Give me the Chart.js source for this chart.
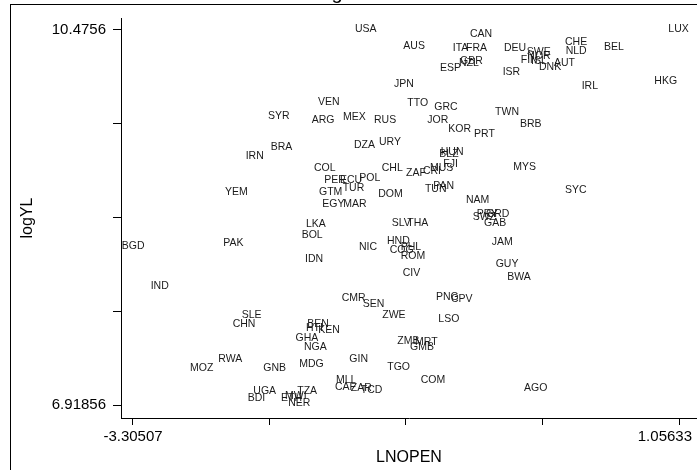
<!DOCTYPE html>
<html>
<head>
<meta charset="utf-8">
<script src="https://cdn.jsdelivr.net/npm/chart.js@4/dist/chart.umd.min.js"></script>
<style>
  body { margin: 0; background: #fff; }
  canvas { display: block; }
</style>
</head>
<body>
<canvas id="c" width="697" height="470"></canvas>
<script>
// country codes, openness (LNOPEN) and log output per worker (logYL)
const codes = [
  "USA","VEN","SYR","ARG","MEX","RUS","JPN","BRA","DZA","URY",
  "CAN","AUS","ITA","FRA","DEU","SWE","NOR","CHE","NLD","BEL",
  "LUX","ESP","NZL","GBR","FIN","ISL","DNK","AUT","ISR","IRL",
  "HKG","TTO","GRC","TWN","JOR","KOR","PRT","BRB","IRN","COL",
  "CHL","PER","ECU","POL","TUR","GTM","YEM","DOM","EGY","MAR",
  "LKA","BOL","BGD","PAK","NIC","SLV","HND","COG","IDN","HUN",
  "BLZ","FJI","ZAF","CRI","MUS","TUN","PAN","NAM","MYS","SYC",
  "SWZ","PRY","GRD","GAB","THA","PHL","ROM","JAM","GUY","CIV",
  "BWA","IND","CMR","SEN","ZWE","SLE","CHN","BEN","HTI","KEN",
  "GHA","NGA","ZMB","GMB","MRT","RWA","MOZ","GNB","MDG","GIN",
  "TGO","MLI","CAF","ZAR","TCD","UGA","BDI","TZA","ETH","MWI",
  "NER","PNG","CPV","LSO","COM","AGO"
];
const lnopen = [
  -1.532,-1.827,-2.227,-1.878,-1.628,-1.380,-1.220,-2.205,-1.540,-1.340,
  -0.613,-1.146,-0.751,-0.645,-0.342,-0.160,-0.155,0.146,0.151,0.457,
  0.971,-0.853,-0.701,-0.693,-0.208,-0.126,-0.062,0.058,-0.352,0.279,
  0.859,-1.114,-0.898,-0.413,-0.954,-0.786,-0.581,-0.214,-2.405,-1.859,
  -1.318,-1.777,-1.652,-1.497,-1.630,-1.819,-2.570,-1.346,-1.793,-1.625,
  -1.923,-1.958,-3.395,-2.584,-1.500,-1.239,-1.276,-1.255,-1.931,-0.847,
  -0.858,-0.826,-1.124,-0.989,-0.933,-0.973,-0.906,-0.645,-0.267,0.146,
  -0.592,-0.560,-0.485,-0.501,-1.114,-1.167,-1.167,-0.440,-0.408,-1.151,
  -0.315,-3.164,-1.638,-1.470,-1.314,-2.437,-2.509,-1.913,-1.923,-1.825,
  -2.007,-1.939,-1.194,-1.092,-1.052,-2.624,-2.850,-2.264,-1.977,-1.577,
  -1.274,-1.684,-1.692,-1.566,-1.486,-2.344,-2.389,-1.993,-2.123,-2.091,
  -2.065,-0.885,-0.765,-0.866,-1.007,-0.182
];
const logyl = [
  10.485,9.790,9.660,9.622,9.653,9.622,9.959,9.361,9.385,9.413,
  10.438,10.324,10.308,10.302,10.302,10.270,10.232,10.359,10.276,10.312,
  10.482,10.112,10.160,10.182,10.191,10.182,10.125,10.160,10.080,9.944,
  9.995,9.786,9.742,9.695,9.622,9.537,9.489,9.581,9.280,9.164,
  9.164,9.053,9.053,9.069,8.980,8.942,8.942,8.917,8.825,8.825,
  8.635,8.534,8.430,8.452,8.420,8.642,8.471,8.389,8.303,9.321,
  9.299,9.202,9.122,9.133,9.162,8.965,8.996,8.863,9.173,8.958,
  8.699,8.730,8.726,8.648,8.642,8.420,8.332,8.462,8.256,8.168,
  8.136,8.047,7.931,7.877,7.772,7.772,7.687,7.684,7.652,7.630,
  7.551,7.472,7.526,7.472,7.519,7.352,7.267,7.267,7.305,7.352,
  7.276,7.156,7.092,7.077,7.061,7.054,6.982,7.054,6.985,6.999,
  6.940,7.946,7.921,7.731,7.156,7.077
];

// axis ticks
const xTickValues = [-3.30507, -2.21472, -1.12437, -0.03402, 1.05633];
const xTickLabels = ["-3.30507", "", "", "", "1.05633"];
const yTickValues = [6.91856, 7.80782, 8.69708, 9.58634, 10.4756];
const yTickLabels = ["6.91856", "", "", "", "10.4756"];

const FONT = "'Liberation Sans', Arial, sans-serif";

const points = codes.map((c, i) => ({ x: lnopen[i], y: logyl[i] }));

// draws the country codes to the right of each (invisible) point
const labelPlugin = {
  id: "mlabels",
  afterDatasetsDraw(chart) {
    const ctx = chart.ctx;
    const meta = chart.getDatasetMeta(0);
    ctx.save();
    ctx.font = "10.5px " + FONT;
    ctx.fillStyle = "#1a1a1a";
    ctx.textAlign = "left";
    ctx.textBaseline = "middle";
    meta.data.forEach((pt, i) => {
      ctx.fillText(codes[i], pt.x, pt.y);
    });
    ctx.restore();
  }
};

// frame, clipped title and the x tick labels
const framePlugin = {
  id: "frame",
  beforeDraw(chart) {
    const ctx = chart.ctx;
    ctx.save();
    ctx.fillStyle = "#fff";
    ctx.fillRect(0, 0, chart.width, chart.height);
    ctx.strokeStyle = "#000";
    ctx.lineWidth = 1;
    ctx.strokeRect(10.5, 4.5, chart.width + 10, chart.height + 10);
    ctx.font = "20px " + FONT;
    ctx.fillStyle = "#000";
    ctx.textAlign = "center";
    ctx.textBaseline = "alphabetic";
    ctx.fillText("g", 337, -1);
    ctx.restore();
  },
  afterDraw(chart) {
    const ctx = chart.ctx;
    const xs = chart.scales.x;
    ctx.save();
    ctx.font = "15px " + FONT;
    ctx.fillStyle = "#000";
    ctx.textBaseline = "middle";
    const y = xs.top + 19;
    ctx.textAlign = "center";
    ctx.fillText(xTickLabels[0], xs.getPixelForValue(xTickValues[0]), y);
    ctx.textAlign = "right";
    ctx.fillText(xTickLabels[4], xs.getPixelForValue(xTickValues[4]) + 13, y);
    ctx.restore();
  }
};

new Chart(document.getElementById("c"), {
  type: "scatter",
  data: {
    datasets: [{
      data: points,
      pointRadius: 0,
      pointHoverRadius: 0
    }]
  },
  options: {
    responsive: false,
    animation: false,
    events: [],
    layout: { padding: { top: 18, left: 0, right: 0, bottom: 0 } },
    plugins: { legend: { display: false }, tooltip: { enabled: false } },
    scales: {
      x: {
        type: "linear",
        min: -3.40092,
        max: 1.20011,
        afterBuildTicks: s => { s.ticks = xTickValues.map(v => ({ value: v })); },
        afterFit: s => { s.height = 52; s.paddingLeft = 0; s.paddingRight = 0; },
        ticks: { display: false, autoSkip: false },
        grid: { drawOnChartArea: false, drawTicks: true, tickLength: 7, color: "#000" },
        border: { display: true, color: "#000", width: 1 },
        title: {
          display: true, text: "LNOPEN", color: "#000",
          font: { family: FONT, size: 16 },
          padding: { top: 0, bottom: 2.4 }
        }
      },
      y: {
        type: "linear",
        min: 6.79526,
        max: 10.58942,
        afterBuildTicks: s => { s.ticks = yTickValues.map(v => ({ value: v })); },
        afterFit: s => { s.width = 121; s.paddingTop = 0; s.paddingBottom = 0; },
        ticks: {
          autoSkip: false,
          padding: 7,
          color: "#000",
          font: { family: FONT, size: 15 },
          callback: (v, i) => yTickLabels[i]
        },
        grid: { drawOnChartArea: false, drawTicks: true, tickLength: 8, color: "#000" },
        border: { display: true, color: "#000", width: 1 },
        title: {
          display: true, text: "logYL", color: "#000",
          font: { family: FONT, size: 16 },
          padding: { top: 18.4, bottom: 0 }
        }
      }
    }
  },
  plugins: [labelPlugin, framePlugin]
});
</script>
</body>
</html>
